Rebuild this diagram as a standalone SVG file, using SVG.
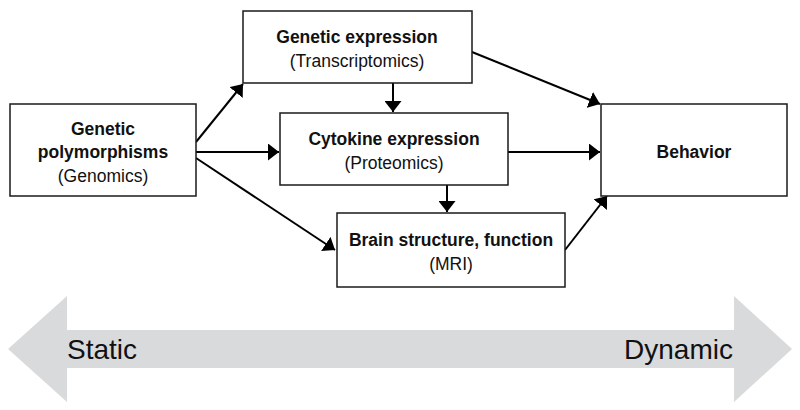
<svg xmlns="http://www.w3.org/2000/svg" width="800" height="410" viewBox="0 0 800 410">
<defs>
<marker id="ah" viewBox="0 0 11 17" refX="11" refY="8.5" markerWidth="11" markerHeight="17" markerUnits="userSpaceOnUse" orient="auto">
<path d="M0,0 L11,8.5 L0,17 Z" fill="#000"/>
</marker>
<style>
.box{fill:#fff;stroke:#1a1a1a;stroke-width:1.5}
.b{font-family:"Liberation Sans",Arial,sans-serif;font-weight:bold;font-size:17.5px;text-anchor:middle;fill:#111}
.r{font-family:"Liberation Sans",Arial,sans-serif;font-size:17.5px;text-anchor:middle;fill:#111}
.c{stroke:#000;stroke-width:2;fill:none;marker-end:url(#ah)}
.big{font-family:"Liberation Sans",Arial,sans-serif;font-size:28px;fill:#111}
</style>
</defs>
<rect width="800" height="410" fill="#fff"/>
<g id="scale">
<polygon points="8,349 67,296 67,330 734,330 734,296 792,349 734,402 734,368 67,368 67,402" fill="#d9dadc"/>
<text class="big" x="67" y="359">Static</text>
<text class="big" x="733" y="359" text-anchor="end">Dynamic</text>
</g>
<g id="connectors">
<line class="c" x1="196" y1="142" x2="243" y2="84"/>
<line class="c" x1="196" y1="152" x2="279" y2="152"/>
<line class="c" x1="196" y1="158" x2="335" y2="250"/>
<line class="c" x1="393" y1="83" x2="393" y2="112"/>
<line class="c" x1="447" y1="185" x2="447" y2="212"/>
<line class="c" x1="472" y1="52" x2="600" y2="104"/>
<line class="c" x1="508" y1="152" x2="600" y2="152"/>
<line class="c" x1="565" y1="250" x2="607" y2="196"/>
</g>
<g id="genetic-polymorphisms">
<rect class="box" x="10" y="104" width="186" height="92"/>
<text class="b" x="103" y="135">Genetic</text>
<text class="b" x="103" y="158">polymorphisms</text>
<text class="r" x="103" y="182">(Genomics)</text>
</g>
<g id="genetic-expression">
<rect class="box" x="243" y="11" width="229" height="72"/>
<text class="b" x="357" y="43">Genetic expression</text>
<text class="r" x="357" y="67">(Transcriptomics)</text>
</g>
<g id="cytokine-expression">
<rect class="box" x="280" y="113" width="228" height="72"/>
<text class="b" x="394" y="145">Cytokine expression</text>
<text class="r" x="394" y="169">(Proteomics)</text>
</g>
<g id="brain">
<rect class="box" x="337" y="213" width="228" height="74"/>
<text class="b" x="451" y="246">Brain structure, function</text>
<text class="r" x="451" y="270">(MRI)</text>
</g>
<g id="behavior">
<rect class="box" x="601" y="104" width="186" height="92"/>
<text class="b" x="694" y="158">Behavior</text>
</g>
</svg>
